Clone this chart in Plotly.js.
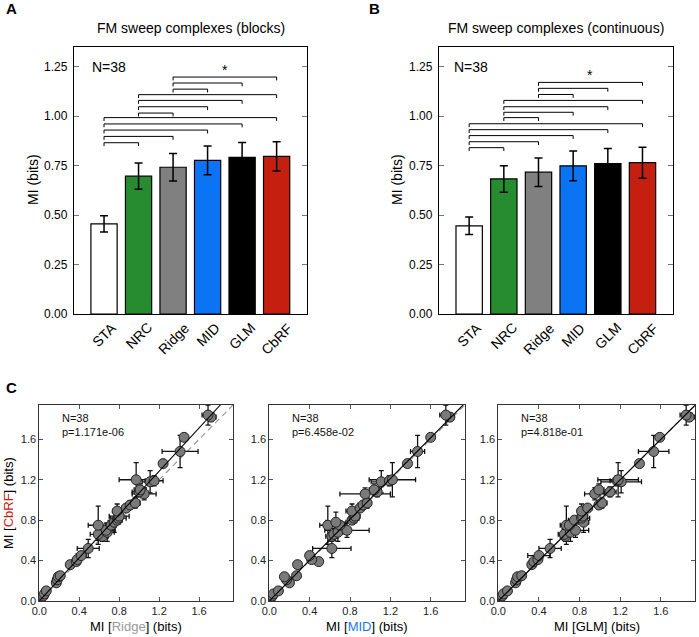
<!DOCTYPE html>
<html><head><meta charset="utf-8">
<script src="https://cdn.plot.ly/plotly-3.0.1.min.js"></script>
<style>html,body{margin:0;padding:0;background:#fff}#chart{width:699px;height:637px}</style>
</head><body><div id="chart"></div>
<script>
// ---------- Data ----------
const categories = ['STA', 'NRC', 'Ridge', 'MID', 'GLM', 'CbRF'];
const miBlocks = [0.456, 0.697, 0.742, 0.777, 0.792, 0.797];
const errBlocks = [0.041, 0.066, 0.069, 0.073, 0.075, 0.074];
const miCont = [0.446, 0.683, 0.717, 0.749, 0.760, 0.765];
const errCont = [0.044, 0.067, 0.072, 0.075, 0.077, 0.078];

const bracketFrom = [0, 0, 0, 0, 0, 1, 1, 1, 1, 2, 2, 2];
const bracketTo   = [1, 2, 3, 4, 5, 2, 3, 4, 5, 3, 4, 5];
const bracketBlocks = [0.866, 0.898, 0.930, 0.961, 0.993, 1.016, 1.048, 1.080, 1.109, 1.137, 1.168, 1.198];
const bracketCont   = [0.841, 0.871, 0.902, 0.932, 0.962, 0.993, 1.020, 1.048, 1.080, 1.110, 1.141, 1.171];
const starBetween = [3, 4];   // '*' drawn between MID and GLM

const nCells = 38;
const cbrfMI = [0.02,0.05,0.07,0.10,0.18,0.21,0.24,0.25,0.36,0.39,0.41,0.45,0.52,0.64,0.66,0.68,0.70,0.75,0.75,0.78,
                0.80,0.82,0.84,0.89,0.92,0.95,0.97,1.06,1.08,1.10,1.18,1.19,1.20,1.36,1.48,1.62,1.82,1.84];
const cbrfErr = [0.01,0.01,0.01,0.02,0.02,0.03,0.04,0.03,0.02,0.02,0.03,0.03,0.09,0.05,0.06,0.09,0.07,0.19,0.04,0.10,
                 0.04,0.05,0.06,0.07,0.03,0.04,0.05,0.06,0.05,0.06,0.11,0.05,0.17,0.02,0.16,0.03,0.04,0.10];
const ridgeMI = [0.01,0.04,0.05,0.07,0.17,0.18,0.19,0.21,0.31,0.37,0.38,0.42,0.49,0.63,0.59,0.68,0.67,0.59,0.72,0.75,
                 0.78,0.79,0.80,0.78,0.87,0.91,0.96,1.05,1.00,1.01,1.11,1.15,0.97,1.24,1.41,1.45,1.72,1.69];
const ridgeErr = [0.01,0.02,0.01,0.02,0.02,0.03,0.03,0.04,0.03,0.02,0.03,0.05,0.11,0.06,0.08,0.07,0.09,0.10,0.05,0.06,
                  0.05,0.08,0.10,0.04,0.04,0.03,0.05,0.12,0.07,0.06,0.08,0.09,0.17,0.02,0.18,0.03,0.05,0.06];
const midMI = [0.01,0.03,0.04,0.09,0.20,0.17,0.15,0.27,0.28,0.49,0.42,0.40,0.62,0.62,0.64,0.68,0.77,0.58,0.70,0.66,
               0.82,0.84,0.85,0.82,0.90,0.93,0.97,0.95,1.07,1.04,1.11,1.19,1.22,1.37,1.47,1.60,1.79,1.75];
const midErr = [0.01,0.02,0.01,0.02,0.03,0.02,0.03,0.04,0.02,0.03,0.04,0.03,0.19,0.06,0.05,0.05,0.22,0.08,0.05,0.10,
                0.04,0.05,0.05,0.06,0.04,0.05,0.04,0.25,0.04,0.05,0.10,0.04,0.23,0.03,0.07,0.03,0.04,0.06];
const glmMI = [0.01,0.04,0.05,0.09,0.17,0.18,0.19,0.23,0.33,0.35,0.39,0.40,0.51,0.66,0.65,0.71,0.76,0.67,0.70,0.84,
               0.75,0.82,0.83,0.82,0.88,0.99,1.02,0.95,1.10,0.99,1.21,1.17,1.18,1.39,1.53,1.59,1.88,1.85];
const glmErr = [0.01,0.02,0.01,0.02,0.02,0.03,0.04,0.03,0.02,0.03,0.03,0.11,0.11,0.05,0.06,0.07,0.13,0.06,0.05,0.05,
                0.06,0.08,0.05,0.04,0.04,0.03,0.05,0.10,0.06,0.05,0.20,0.07,0.20,0.02,0.15,0.03,0.05,0.06];
const pValues = ['1.171e-06', '6.458e-02', '4.818e-01'];
const fitSlopes = [1.07, 1.01, 1.0];
const modelNames = ['Ridge', 'MID', 'GLM'];

// ---------- Styles ----------
const FONT = 'Liberation Sans, Arial, Helvetica, sans-serif';
const barColors = ['#ffffff', '#268c2f', '#808080', '#0a74f5', '#000000', '#c5200f'];
const modelColors = ['#999999', '#1a7ae8', '#000000'];
const W = 699, H = 637;
const px = v => v / W, py = v => 1 - v / H;

const traces = [];
const annotations = [];
const idx = categories.map((c, i) => i);

function barPanel(ax, vals, errs, heights, label, title, nx) {
  const xa = 'x' + (ax === 1 ? '' : ax), ya = 'y' + (ax === 1 ? '' : ax);
  traces.push({
    type: 'bar', x: idx, y: vals, width: 0.76, xaxis: xa, yaxis: ya, hoverinfo: 'skip',
    marker: {color: barColors, line: {color: '#000', width: 1.2}},
    error_y: {type: 'data', array: errs, visible: true, color: '#000', thickness: 1.5, width: 4}
  });
  const bx = [], by = [], d = 0.017;
  heights.forEach((h, k) => {
    const a = bracketFrom[k], b = bracketTo[k];
    bx.push(a, a, b, b, null); by.push(h - d, h, h, h - d, null);
  });
  traces.push({type: 'scatter', mode: 'lines', x: bx, y: by, xaxis: xa, yaxis: ya,
    line: {color: '#000', width: 1}, hoverinfo: 'skip'});
  const top = Math.max(...heights);
  annotations.push({xref: xa, yref: ya, x: (starBetween[0] + starBetween[1]) / 2, y: top + 0.035,
    text: '*', showarrow: false, font: {family: FONT, size: 14, color: '#000'}, xanchor: 'center', yanchor: 'middle'});
  annotations.push({xref: xa + ' domain', yref: ya, x: nx, y: 1.25, text: 'N=' + nCells, showarrow: false,
    font: {family: FONT, size: 14, color: '#000'}, xanchor: 'left', yanchor: 'middle'});
  categories.forEach((c, i) => {
    annotations.push({xref: xa, yref: ya, x: i, y: 0, yshift: -3, text: c, textangle: -45, showarrow: false,
      font: {family: FONT, size: 14, color: '#000'}, xanchor: 'center', yanchor: 'top'});
  });
}

barPanel(1, miBlocks, errBlocks, bracketBlocks, 'A', '', 0.068);
barPanel(2, miCont, errCont, bracketCont, 'B', '', 0.054);

const models = [ridgeMI, midMI, glmMI];
const modelErrs = [ridgeErr, midErr, glmErr];
const AXMAX = 1.94;
models.forEach((m, p) => {
  const n = p + 3;
  const xa = 'x' + n, ya = 'y' + n;
  traces.push({type: 'scatter', mode: 'lines', x: [0, AXMAX], y: [0, AXMAX], xaxis: xa, yaxis: ya,
    line: {color: '#999', width: 1.2, dash: '6px,4px'}, hoverinfo: 'skip'});
  traces.push({type: 'scatter', mode: 'markers', x: m, y: cbrfMI, xaxis: xa, yaxis: ya, hoverinfo: 'skip',
    marker: {size: 10, color: '#7a7a7a', line: {color: '#222', width: 1}},
    error_x: {type: 'data', array: modelErrs[p], color: '#111', thickness: 1.3, width: 2.5},
    error_y: {type: 'data', array: cbrfErr, color: '#111', thickness: 1.3, width: 2.5}});
  traces.push({type: 'scatter', mode: 'lines', x: [0, AXMAX / fitSlopes[p]], y: [0, AXMAX], xaxis: xa, yaxis: ya,
    line: {color: '#000', width: 1.1}, hoverinfo: 'skip'});
  annotations.push({xref: xa + ' domain', yref: ya + ' domain', x: 0.105, y: 0.975,
    text: 'N=' + nCells + '<br>p=' + pValues[p], showarrow: false, align: 'left',
    font: {family: FONT, size: 11, color: '#111'}, xanchor: 'left', yanchor: 'top'});
});

// axes
function barX(dom) {
  return {domain: dom, range: [-0.87, 5.88], showticklabels: false, ticks: '', showgrid: false, zeroline: false,
    showline: true, mirror: true, linecolor: '#000', linewidth: 1.2, fixedrange: true};
}
function barY(dom, anchor) {
  return {domain: dom, anchor: anchor, range: [0, 1.35], tickvals: [0, 0.25, 0.5, 0.75, 1.0, 1.25], tickformat: '.2f',
    ticks: 'inside', ticklen: 5, tickcolor: '#777', showgrid: false, zeroline: false, showline: true, mirror: 'ticks',
    linecolor: '#000', linewidth: 1.2, tickfont: {family: FONT, size: 12, color: '#000'}, ticklabelstandoff: 3};
}
function scX(dom, anchor) {
  return {domain: dom, anchor: anchor, range: [0, AXMAX], tickvals: [0, 0.4, 0.8, 1.2, 1.6], tickformat: '.1f',
    ticks: 'inside', ticklen: 4, tickcolor: '#555', showgrid: false, zeroline: false, showline: true, mirror: 'ticks',
    linecolor: '#333', linewidth: 1, tickfont: {family: FONT, size: 11, color: '#222'}};
}
const yDomBar = [py(314), py(47)];
const yDomSc = [py(601), py(405)];
const layout = {
  width: W, height: H, margin: {l: 0, r: 0, t: 0, b: 0}, paper_bgcolor: '#fff', plot_bgcolor: '#fff',
  showlegend: false, font: {family: FONT},
  xaxis: barX([px(74), px(307)]), yaxis: barY(yDomBar, 'x'),
  xaxis2: Object.assign(barX([px(439), px(673)]), {anchor: 'y2'}), yaxis2: barY(yDomBar, 'x2'),
  xaxis3: scX([px(39.3), px(233)], 'y3'), yaxis3: scX(yDomSc, 'x3'),
  xaxis4: scX([px(269.3), px(465)], 'y4'), yaxis4: scX(yDomSc, 'x4'),
  xaxis5: scX([px(498.3), px(695.3)], 'y5'), yaxis5: scX(yDomSc, 'x5'),
  annotations: annotations
};
layout.xaxis.anchor = 'y';

const txt = (x, y, text, size, extra) => annotations.push(Object.assign({xref: 'paper', yref: 'paper', x: px(x), y: py(y),
  text: text, showarrow: false, font: {family: FONT, size: size, color: '#000'}, xanchor: 'center', yanchor: 'middle'}, extra || {}));
txt(190.5, 28, 'FM sweep complexes (blocks)', 14);
txt(556, 28, 'FM sweep complexes (continuous)', 14);
txt(33, 180, 'MI (bits)', 14, {textangle: -90});
txt(397, 180, 'MI (bits)', 14, {textangle: -90});
txt(11, 9, '<b>A</b>', 15);
txt(374, 9, '<b>B</b>', 15);
txt(11, 387, '<b>C</b>', 15);
txt(9, 503, 'MI [<span style="color:#c5200f">CbRF</span>] (bits)', 13, {textangle: -90});
const xCenters = [136, 367, 597];
modelNames.forEach((nm, p) => txt(xCenters[p], 626, 'MI [<span style="color:' + modelColors[p] + '">' + nm + '</span>] (bits)', 13));

Plotly.newPlot('chart', traces, layout, {staticPlot: true, displayModeBar: false});
</script></body></html>
